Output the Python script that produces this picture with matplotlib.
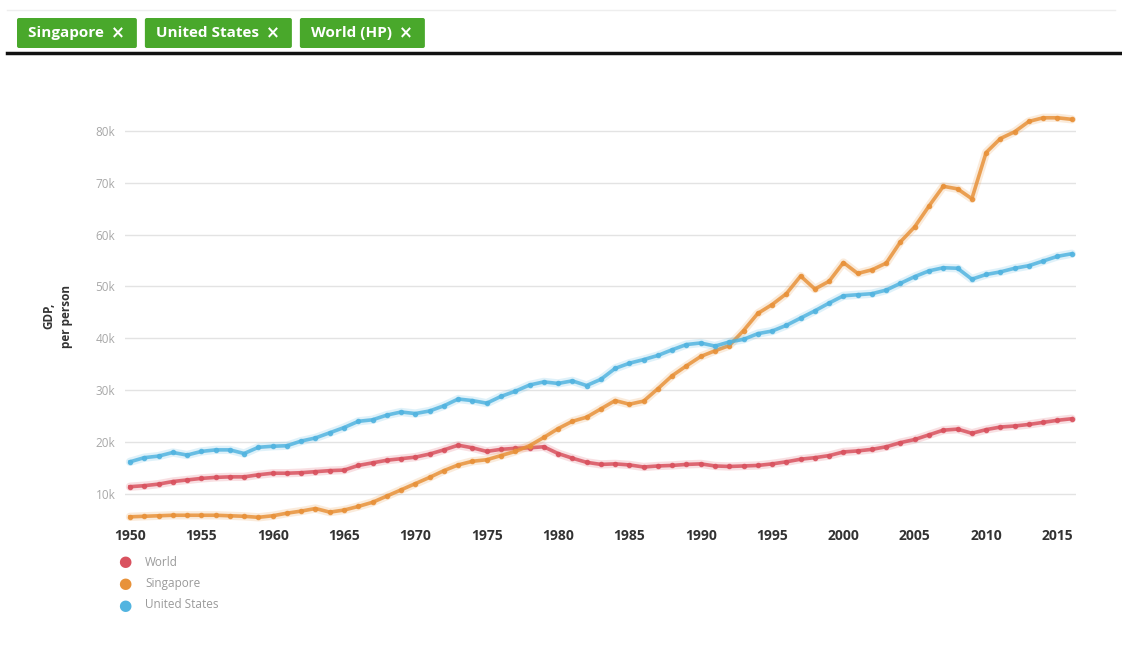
import numpy as np
import matplotlib
matplotlib.use("Agg")
import matplotlib.pyplot as plt
from matplotlib.patches import FancyBboxPatch

plt.rcParams["font.family"] = ["Open Sans", "DejaVu Sans"]

years = np.arange(1950, 2017)

# GDP per person (thousands)
world = [11.4, 11.6, 11.9, 12.4, 12.7, 13.0, 13.2, 13.3, 13.3, 13.7,
         14.0, 14.0, 14.1, 14.3, 14.5, 14.6, 15.5, 16.0, 16.5, 16.8,
         17.1, 17.7, 18.5, 19.4, 18.9, 18.2, 18.6, 18.8, 18.9, 19.1,
         17.8, 16.9, 16.1, 15.7, 15.8, 15.6, 15.2, 15.4, 15.5, 15.7,
         15.8, 15.4, 15.3, 15.4, 15.5, 15.8, 16.2, 16.7, 17.0, 17.4,
         18.1, 18.3, 18.6, 19.1, 19.9, 20.5, 21.4, 22.3, 22.5, 21.7,
         22.4, 22.9, 23.1, 23.4, 23.8, 24.2, 24.5]
singapore = [5.6, 5.7, 5.8, 5.9, 5.9, 5.9, 5.9, 5.8, 5.7, 5.5,
             5.8, 6.3, 6.7, 7.2, 6.5, 6.9, 7.6, 8.4, 9.6, 10.8,
             12.0, 13.2, 14.5, 15.6, 16.3, 16.6, 17.4, 18.2, 19.3, 20.9,
             22.6, 24.0, 24.8, 26.4, 28.0, 27.3, 27.9, 30.3, 32.8, 34.7,
             36.5, 37.6, 38.6, 41.5, 44.8, 46.5, 48.6, 52.0, 49.5, 51.0,
             54.6, 52.5, 53.2, 54.5, 58.6, 61.5, 65.5, 69.3, 68.8, 66.9,
             75.8, 78.5, 79.8, 81.8, 82.5, 82.5, 82.2]
usa = [16.2, 17.0, 17.3, 18.0, 17.5, 18.2, 18.5, 18.5, 17.8, 19.0,
       19.2, 19.3, 20.2, 20.8, 21.8, 22.8, 24.0, 24.3, 25.2, 25.8,
       25.5, 26.0, 27.0, 28.3, 28.0, 27.5, 28.8, 29.8, 31.0, 31.6,
       31.3, 31.8, 30.9, 32.1, 34.2, 35.2, 35.9, 36.7, 37.8, 38.8,
       39.1, 38.5, 39.3, 39.8, 40.9, 41.4, 42.5, 43.9, 45.3, 46.8,
       48.2, 48.4, 48.6, 49.3, 50.6, 51.9, 53.0, 53.6, 53.5, 51.4,
       52.3, 52.8, 53.5, 54.0, 54.9, 55.8, 56.3]

series_names = ["World", "Singapore", "United States"]
series_colors = ["#d9525f", "#e8923a", "#52b4e0"]
yticks = [10, 20, 30, 40, 50, 60, 70, 80]
xticks = list(range(1950, 2016, 5))
buttons = ["Singapore", "United States", "World (HP)"]

W, H = 1122, 660
fig = plt.figure(figsize=(W / 100, H / 100), dpi=100)
fig.patch.set_facecolor("white")

ax = fig.add_axes([125 / W, 1 - 522 / H, 951 / W, 412 / H])
for vals, c in zip([world, singapore, usa], series_colors):
    ax.plot(years, vals, color=c, lw=6, alpha=0.18, solid_capstyle="round")
    ax.plot(years, vals, color=c, lw=2.6, marker="o", ms=3,
            mec=c, mfc=c, alpha=0.85)

ax.set_xlim(1949.65, 2016.3)
ax.set_ylim(4.6, 84)
ax.set_yticks(yticks)
ax.set_yticklabels([f"{v}k" for v in yticks], color="#a8a8a8", fontsize=8.5)
ax.set_xticks(xticks)
ax.set_xticklabels([str(x) for x in xticks], color="#333333",
                   fontsize=10, fontweight="bold")
ax.tick_params(axis="both", length=0)
ax.tick_params(axis="y", pad=7)
ax.tick_params(axis="x", pad=5)
ax.grid(axis="y", color="#e3e3e3", lw=1)
ax.set_axisbelow(True)
for s in ax.spines.values():
    s.set_visible(False)
ax.set_ylabel("GDP,\nper person", fontsize=8.5, fontweight="bold",
              color="#333333", linespacing=1.5, labelpad=16)

# legend below the plot
for i, (name, c) in enumerate(zip(series_names, series_colors)):
    yy = 1 - (562 + i * 21.5) / H
    fig.text(125 / W, yy, "\u25cf", color=c, fontsize=11,
             ha="center", va="center", family="DejaVu Sans")
    fig.text(145 / W, yy, name, color="#9a9a9a", fontsize=8.5,
             ha="left", va="center")

# header overlay with tag buttons
top = fig.add_axes([0, 0, 1, 1], facecolor="none")
top.set_xlim(0, W)
top.set_ylim(H, 0)
top.axis("off")
top.plot([7, 1115], [10, 10], color="#eeeeee", lw=1)
top.plot([7, W], [52.5, 52.5], color="#111111", lw=2.5)
x0 = 17
for b in buttons:
    t = top.text(x0 + 11, 33, b + " ", color="white", fontsize=11,
                 fontweight="bold", ha="left", va="center")
    fig.canvas.draw()
    bb = t.get_window_extent()
    top.text(x0 + 11 + bb.width + 3, 33.5, "\u00d7", color="white",
             fontsize=12, fontweight="bold", ha="left", va="center",
             family="DejaVu Sans")
    w = bb.width + 40
    top.add_patch(FancyBboxPatch((x0, 18), w, 30,
                                 boxstyle="round,pad=0,rounding_size=2",
                                 fc="#49a82b", ec="none", zorder=0))
    x0 += w + 8

fig.savefig("out.png", dpi=100)
